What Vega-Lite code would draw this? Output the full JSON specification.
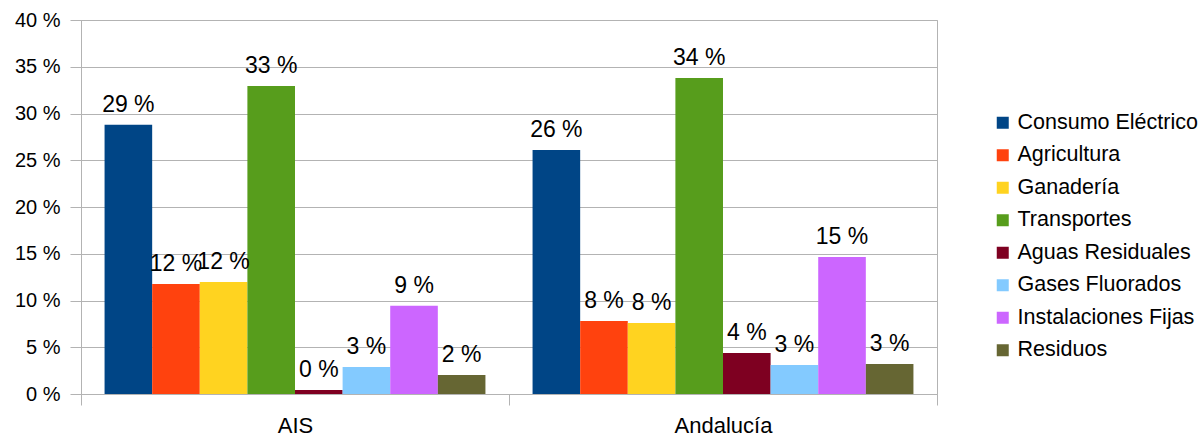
{
  "$schema": "https://vega.github.io/schema/vega-lite/v6.json",
  "width": 856,
  "height": 374,
  "autosize": "none",
  "padding": {"left": 81, "top": 20, "right": 261, "bottom": 42},
  "background": "white",
  "config": {
    "font": "Liberation Sans",
    "view": {"stroke": "#b3b3b3", "strokeWidth": 1},
    "axis": {"labelFont": "Liberation Sans", "labelColor": "#000000", "domainColor": "#b3b3b3", "tickColor": "#b3b3b3", "gridColor": "#b3b3b3", "gridOpacity": 1}
  },
  "data": {
    "values": [
      {"group": "AIS", "series": "Consumo Eléctrico", "v": 28.8},
      {"group": "AIS", "series": "Agricultura", "v": 11.76},
      {"group": "AIS", "series": "Ganadería", "v": 11.98},
      {"group": "AIS", "series": "Transportes", "v": 32.94},
      {"group": "AIS", "series": "Aguas Residuales", "v": 0.43},
      {"group": "AIS", "series": "Gases Fluorados", "v": 2.89},
      {"group": "AIS", "series": "Instalaciones Fijas", "v": 9.45},
      {"group": "AIS", "series": "Residuos", "v": 2.03},
      {"group": "Andalucía", "series": "Consumo Eléctrico", "v": 26.1},
      {"group": "Andalucía", "series": "Agricultura", "v": 7.8},
      {"group": "Andalucía", "series": "Ganadería", "v": 7.6},
      {"group": "Andalucía", "series": "Transportes", "v": 33.8},
      {"group": "Andalucía", "series": "Aguas Residuales", "v": 4.39},
      {"group": "Andalucía", "series": "Gases Fluorados", "v": 3.1},
      {"group": "Andalucía", "series": "Instalaciones Fijas", "v": 14.65},
      {"group": "Andalucía", "series": "Residuos", "v": 3.2}
    ]
  },
  "transform": [{"calculate": "format(datum.v, '.0f') + ' %'", "as": "label"}],
  "encoding": {
    "x": {
      "field": "group", "type": "nominal", "sort": ["AIS", "Andalucía"],
      "scale": {"paddingInner": 0, "paddingOuter": 0},
      "axis": {"title": null, "labelAngle": 0, "labelFontSize": 22, "tickBand": "extent", "tickSize": 11, "labelPadding": 10, "grid": false}
    },
    "xOffset": {
      "field": "series", "type": "nominal",
      "sort": ["Consumo Eléctrico", "Agricultura", "Ganadería", "Transportes", "Aguas Residuales", "Gases Fluorados", "Instalaciones Fijas", "Residuos"],
      "scale": {"paddingInner": 0, "paddingOuter": 0.495}
    },
    "y": {
      "field": "v", "type": "quantitative",
      "scale": {"domain": [0, 40], "nice": false},
      "axis": {"title": null, "values": [0, 5, 10, 15, 20, 25, 30, 35, 40], "labelExpr": "datum.value + ' %'", "labelFontSize": 20, "tickSize": 11, "labelPadding": 10, "grid": true}
    }
  },
  "layer": [
    {
      "mark": {"type": "bar"},
      "encoding": {
        "color": {
          "field": "series", "type": "nominal",
          "sort": ["Consumo Eléctrico", "Agricultura", "Ganadería", "Transportes", "Aguas Residuales", "Gases Fluorados", "Instalaciones Fijas", "Residuos"],
          "scale": {
            "domain": ["Consumo Eléctrico", "Agricultura", "Ganadería", "Transportes", "Aguas Residuales", "Gases Fluorados", "Instalaciones Fijas", "Residuos"],
            "range": ["#004586", "#ff420e", "#ffd320", "#579d1c", "#7e0021", "#83caff", "#cc66ff", "#666633"]
          },
          "legend": {
            "title": null, "orient": "none", "legendX": 911, "legendY": 92,
            "symbolType": "square", "symbolSize": 144, "symbolStrokeWidth": 0,
            "labelFontSize": 21.5, "labelFont": "Liberation Sans", "labelColor": "#000000",
            "labelOffset": 4, "rowPadding": 9.5, "padding": 0, "labelLimit": 300
          }
        }
      }
    },
    {
      "mark": {"type": "text", "baseline": "alphabetic", "dy": -13, "fontSize": 23, "font": "Liberation Sans", "color": "#000000"},
      "encoding": {"text": {"field": "label"}}
    }
  ]
}
